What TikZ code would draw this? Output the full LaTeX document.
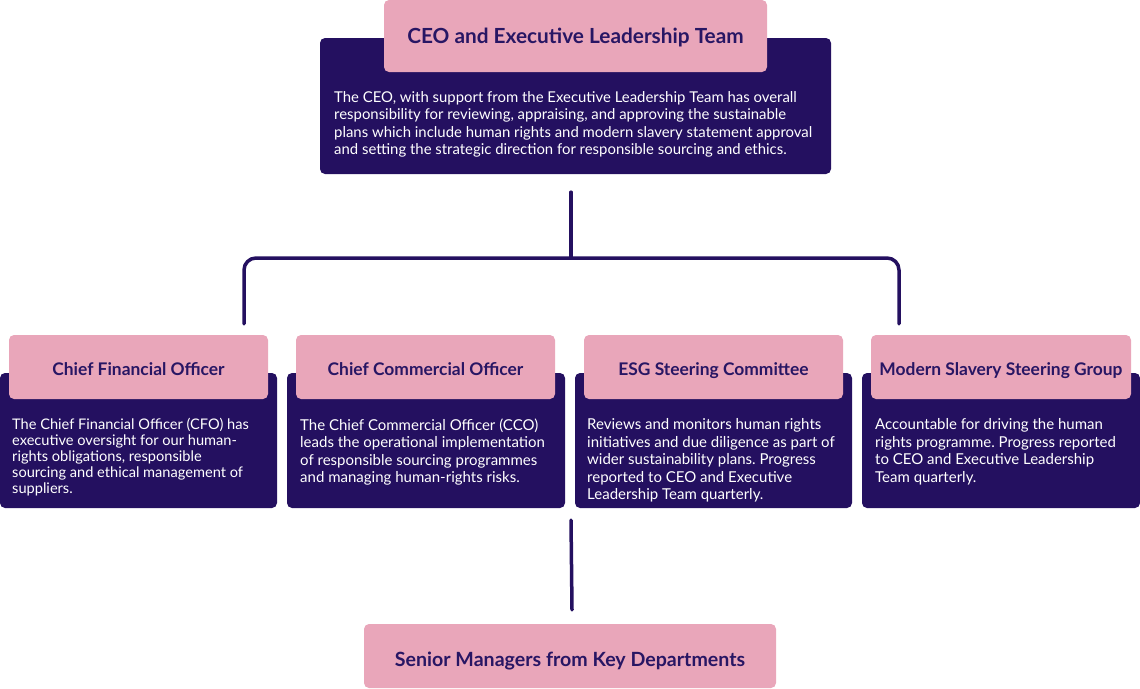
\documentclass[tikz,border=0pt]{standalone}
\usepackage{fontspec}
\usetikzlibrary{calc}
\setmainfont{Lato}
\frenchspacing
\definecolor{navy}{RGB}{36,16,96}
\definecolor{titlec}{RGB}{40,22,100}
\definecolor{pinkc}{RGB}{233,166,186}
\begin{document}
\begin{tikzpicture}[x=1pt,y=-1pt,
  darkbox/.style={fill=navy, rounded corners=5pt, inner sep=0pt},
  pinkbox/.style={fill=pinkc, rounded corners=5pt, inner sep=0pt, text=titlec, text height=16pt, text depth=0pt, font=\bfseries\fontsize{17.4}{20}\selectfont},
  bigtitle/.style={text height=14.6pt, font=\bfseries\fontsize{20.8}{24}\selectfont},
  body/.style={text=white, align=left, anchor=north west, inner sep=0pt, font=\fontsize{14.9}{17.3}\selectfont},
  conn/.style={draw=navy, line width=3.5pt, line cap=round, rounded corners=12pt}]
\useasboundingbox (0,0) rectangle (1140,688);
% top
\node[darkbox, minimum width=511pt, minimum height=136pt] (ceoD) at (575.5,106) {};
\node[pinkbox, bigtitle, minimum width=383pt, minimum height=72pt] (ceo) at (575.5,36) {CEO and Executive Leadership Team};
\node[body] (ceoT) at (334,91.5) {The CEO, with support from the Executive Leadership Team has overall\\responsibility for reviewing, appraising, and approving the sustainable\\plans which include human rights and modern slavery statement approval\\and setting the strategic direction for responsible sourcing and ethics.};
% bottom row dark boxes
\node[darkbox, minimum width=277pt, minimum height=135pt] (cfoD) at (138.5,440.5) {};
\node[darkbox, minimum width=278pt, minimum height=135pt] (ccoD) at (426,440.5) {};
\node[darkbox, minimum width=277pt, minimum height=135pt] (esgD) at (713.5,440.5) {};
\node[darkbox, minimum width=278pt, minimum height=135pt] (mssD) at (1001,440.5) {};
% pink titles
\node[pinkbox, minimum width=259pt, minimum height=64pt] (cfo) at (138.5,367) {Chief Financial Officer};
\node[pinkbox, minimum width=259pt, minimum height=64pt] (cco) at (425.5,367) {Chief Commercial Officer};
\node[pinkbox, minimum width=259pt, minimum height=64pt] (esg) at (713.5,367) {ESG Steering Committee};
\node[pinkbox, minimum width=260pt, minimum height=64pt] (mss) at (1001,367) {Modern Slavery Steering Group};
% body texts
\node[body, font=\fontsize{14.6}{16}\selectfont] (cfoT) at (12,417.5) {The Chief Financial Officer (CFO) has\\executive oversight for our human-\\rights obligations, responsible\\sourcing and ethical management of\\suppliers.};
\node[body, font=\fontsize{15}{17.5}\selectfont] (ccoT) at (300,418.5) {The Chief Commercial Officer (CCO)\\leads the operational implementation\\of responsible sourcing programmes\\and managing human-rights risks.};
\node[body, font=\fontsize{15}{17.5}\selectfont] (esgT) at (587,418.5) {Reviews and monitors human rights\\initiatives and due diligence as part of\\wider sustainability plans. Progress\\reported to CEO and Executive\\Leadership Team quarterly.};
\node[body, font=\fontsize{15}{17.5}\selectfont] (mssT) at (875,418.5) {Accountable for driving the human\\rights programme. Progress reported\\to CEO and Executive Leadership\\Team quarterly.};
% senior managers
\node[pinkbox, text height=21.4pt, font=\bfseries\fontsize{19.6}{23}\selectfont, minimum width=412pt, minimum height=64pt] (smk) at (570,656) {Senior Managers from Key Departments};
% connectors
\coordinate (ceoOut) at ($(ceoD.south)+(-4.5,18)$);
\coordinate (joint) at (571,258);
\coordinate (leftEnd) at ($(cfoD.north)+(105.5,-49)$);
\coordinate (rightEnd) at ($(mssD.north)+(-102,-49)$);
\draw[conn] (ceoOut) -- (joint);
\draw[conn] (leftEnd) |- (joint) -| (rightEnd);
\coordinate (midTop) at ($(esgD.south)+(-142.5,12)$);
\coordinate (midBot) at ($(smk.north)+(2,-14)$);
\draw[conn] (midTop) -- (midBot);
\end{tikzpicture}
\end{document}
